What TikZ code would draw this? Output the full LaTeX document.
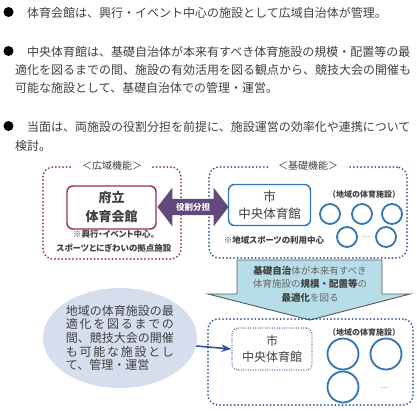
\documentclass[tikz,border=0pt]{standalone}
\usepackage{fontspec}
\setmainfont{Noto Sans CJK JP}
\newfontfamily\pfont{Noto Sans CJK JP}[RawFeature=+palt]
\usetikzlibrary{shapes.geometric, shapes.arrows, arrows.meta}

\definecolor{txtgray}{RGB}{64,64,64}
\definecolor{redline}{RGB}{150,50,55}
\definecolor{bluedot}{RGB}{47,85,151}
\definecolor{blueline}{RGB}{46,117,182}
\definecolor{purplefill}{RGB}{96,74,123}
\definecolor{aquafill}{RGB}{183,222,232}
\definecolor{ellfill}{RGB}{214,222,238}

\begin{document}
\begin{tikzpicture}[x=1bp, y=-1bp, >=Stealth, text=txtgray, font=\fontsize{12bp}{14bp}\selectfont,
    bullet/.style={circle, fill=black, inner sep=0pt, minimum size=10bp},
    line/.style={anchor=west, inner sep=0pt},
    dotbox/.style={draw=#1, line width=2bp, dash pattern=on 0pt off 3.6bp, line cap=round, rounded corners=10bp, inner sep=0pt},
    boxtitle/.style={fill=white, inner xsep=9bp, inner ysep=1bp, font=\fontsize{10bp}{12bp}\selectfont},
    hallbox/.style={draw=#1, line width=1.4bp, rounded corners=6bp, align=center, inner sep=0pt},
    note/.style={align=center, inner sep=0pt, font=\pfont\bfseries\fontsize{8.5bp}{14bp}\selectfont},
    localnote/.style={inner sep=0pt, font=\bfseries\fontsize{8bp}{10bp}\selectfont},
    facility/.style={circle, draw=blueline, line width=1.8bp, inner sep=0pt, minimum size=#1}]
  \useasboundingbox (0,0) rectangle (417,411);

  % bullet points
  \node[bullet] (b1) at (8.5,12) {};
  \node[line] (l1) at (27,13) {体育会館は、興行・イベント中心の施設として広域自治体が管理。};
  \node[bullet] (b2) at (8.5,51) {};
  \node[line] (l2) at (27,52) {中央体育館は、基礎自治体が本来有すべき体育施設の規模・配置等の最};
  \node[line] (l3) at (15,70) {適化を図るまでの間、施設の有効活用を図る観点から、競技大会の開催も};
  \node[line] (l4) at (15,88) {可能な施設として、基礎自治体での管理・運営。};
  \node[bullet] (b3) at (8.5,126) {};
  \node[line] (l5) at (27,127) {当面は、両施設の役割分担を前提に、施設運営の効率化や連携について};
  \node[line] (l6) at (15,146) {検討。};

  % upper boxes
  \node[dotbox=redline, minimum width=138bp, minimum height=92bp] (wide) at (112,213) {};
  \node[boxtitle] at (wide.north) {＜広域機能＞};
  \node[hallbox=redline, minimum width=89bp, minimum height=43bp, font=\bfseries\fontsize{13bp}{19bp}\selectfont] (fu) at (111.5,207.5) {府立\\体育会館};
  \node[note] (funote) at (114,241) {※興行・イベント中心。\\スポーツとにぎわいの拠点施設};

  \node[dotbox=bluedot, minimum width=198bp, minimum height=91bp] (base) at (308,212.5) {};
  \node[boxtitle] at (base.north) {＜基礎機能＞};
  \node[hallbox=blueline, minimum width=82bp, minimum height=41bp, font=\fontsize{12.5bp}{16.5bp}\selectfont] (shi1) at (269.5,205) {市\\中央体育館};
  \node[note] (shinote) at (274,240) {※地域スポーツの利用中心};
  \node[localnote] (local1) at (364,194) {（地域の体育施設）};
  \node[facility=20bp] (c1) at (330,214) {};
  \node[facility=20bp] (c2) at (362,214) {};
  \node[facility=20bp] (c3) at (392,214) {};
  \node[facility=20bp] (c4) at (347,237) {};
  \node[facility=20bp] (c5) at (386,237) {};
  \node[text=gray, font=\fontsize{8bp}{10bp}\selectfont] (dots1) at (366,237) {…};

  \node[double arrow, fill=purplefill, text=white, font=\pfont\bfseries\fontsize{8.5bp}{10bp}\selectfont,
        minimum height=71bp, double arrow head extend=11.5bp, double arrow tip angle=105,
        inner xsep=1bp, inner ysep=3.75bp] (role) at (193,207) {役割分担};

  % policy arrow
  \draw[fill=aquafill, draw=black!65, line width=0.9bp] (237,260) -- (382,260) -- (382,294) -- (410,294)
      -- (310,320) -- (208,294) -- (237,294) -- cycle;
  \node[align=center, inner sep=0pt, text=black!60, font=\fontsize{9.5bp}{13.5bp}\selectfont] (policy) at (310,284)
      {\textbf{\color{txtgray}基礎自治}体が本来有すべき\\体育施設の\textbf{\color{txtgray}規模・配置等}の\\\textbf{\color{txtgray}最適化}を図る};

  % lower box
  \node[dotbox=bluedot, minimum width=205bp, minimum height=86bp] (future) at (310.5,362) {};
  \node[hallbox=bluedot, line width=1.3bp, dash pattern=on 0pt off 2.4bp, line cap=round, minimum width=80bp, minimum height=42bp,
        font=\fontsize{12bp}{16.5bp}\selectfont] (shi2) at (272,349) {市\\中央体育館};
  \node[localnote] (local2) at (364,332) {（地域の体育施設）};
  \node[facility=31bp] (d1) at (343,354) {};
  \node[facility=31bp] (d2) at (386,354) {};
  \node[facility=31bp] (d3) at (343,387) {};
  \node[text=gray, font=\fontsize{8bp}{10bp}\selectfont] (dots2) at (384,388) {…};

  \node[ellipse, fill=ellfill, minimum width=154bp, minimum height=100bp, align=left, inner sep=0pt,
        font=\fontsize{12bp}{13.7bp}\selectfont] (ell) at (120,338)
      {地域の体育施設の最\\\makebox[108bp][s]{適\hfil 化\hfil を\hfil 図\hfil る\hfil ま\hfil で\hfil の}\\間、競技大会の開催\\\makebox[108bp][s]{も\hfil 可\hfil 能\hfil な\hfil 施\hfil 設\hfil と\hfil し}\\て、管理・運営};
  \draw[->, draw=bluedot, line width=1.6bp] (ell.-6) -- (shi2.west);
\end{tikzpicture}
\end{document}
